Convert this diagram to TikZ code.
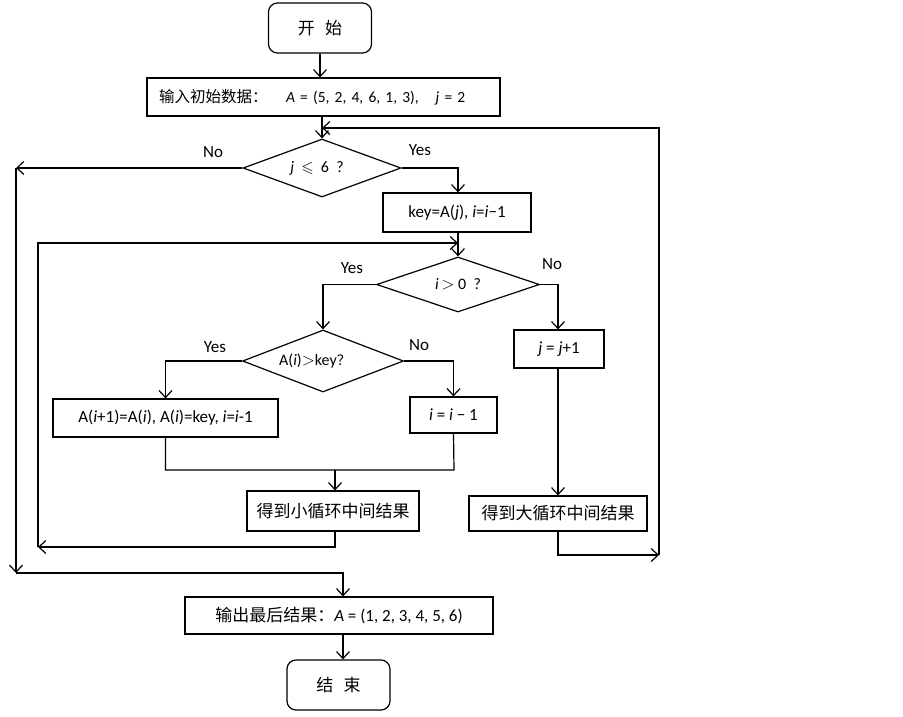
\documentclass[tikz,border=0pt]{standalone}
\usepackage{amssymb}
\usepackage{fontspec}
\setmainfont{Carlito}
\newfontfamily\cjk{Noto Sans CJK SC}
\usetikzlibrary{shapes.geometric,arrows.meta}
\begin{document}
\begin{tikzpicture}[x=1pt,y=-1pt,line width=1.2pt,
  txt/.style={font=\fontsize{17}{19}\selectfont},
  box/.style={draw,rectangle,inner sep=0pt,txt},
  term/.style={box,rounded corners=9pt},
  dec/.style={draw,diamond,inner sep=0pt},
  dtxt/.style={font=\fontsize{16}{18}\selectfont},
  arr/.style={-{Straight Barb[length=7pt,width=13pt,line width=1.2pt]}},
  lab/.style={txt}]
\useasboundingbox (0,0) rectangle (903,716);
% nodes
\node[term,minimum width=103,minimum height=50] (start) at (320,28) {\cjk 开\hspace{0.6em}始};
\node[box,minimum height=38,text width=341,inner xsep=6pt,align=left,font=\fontsize{15.5}{18}\selectfont] (in) at (323.5,97)
  {\hspace{6pt}{\cjk 输入初始数据：}\hspace{1.2em}\textit{A} = (5, 2, 4, 6, 1, 3),\hspace{1.1em}\textit{j} = 2};
\node[dec,minimum width=158,minimum height=58] (d1) at (322,168) {};
\node[dtxt] (t1) at ([xshift=-5pt]d1.center) {\textit{j}\ \ $\leqslant$\ \ 6\ \ ?};
\node[box,minimum width=148,minimum height=39] (key) at (457,212.5) {key=A(\textit{j}), \textit{i}=\textit{i}−1};
\node[dec,minimum width=163,minimum height=55] (d2) at (458,284.5) {};
\node[dtxt] (t2) at (d2) {\textit{i}\,$>$\ 0\ \ ?};
\node[dec,minimum width=161,minimum height=62] (d3) at (323,361) {};
\node[dtxt] (t3) at ([xshift=-8pt]d3.center) {A(\textit{i})$>$key{\cjk\fontsize{14}{16}\selectfont ？}};
\node[box,minimum width=225,minimum height=38] (ba) at (165.5,418) {A(\textit{i}+1)=A(\textit{i}), A(\textit{i})=key, \textit{i}=\textit{i}-1};
\node[box,minimum width=87,minimum height=36] (bi) at (453.5,415) {\textit{i} = \textit{i} − 1};
\node[box,minimum width=90,minimum height=38] (bj) at (559,349) {\textit{j} = \textit{j}+1};
\node[box,minimum width=172,minimum height=40] (small) at (333,511) {\cjk 得到小循环中间结果};
\node[box,minimum width=178,minimum height=35] (big) at (558,513.5) {\cjk 得到大循环中间结果};
\node[box,minimum width=308,minimum height=37] (out) at (339,615.5) {{\cjk 输出最后结果：}\textit{A} = (1, 2, 3, 4, 5, 6)};
\node[term,minimum width=103,minimum height=50] (end) at (338.5,685) {\cjk 结\hspace{0.6em}束};
% labels
\node[lab] (l1) at (213,152) {No};
\node[lab] (l2) at (420,150) {Yes};
\node[lab] (l3) at (352,268) {Yes};
\node[lab] (l4) at (552,264) {No};
\node[lab] (l5) at (215,347) {Yes};
\node[lab] (l6) at (419,345) {No};
% coordinates
\coordinate (tr) at (659,128);
\coordinate (br) at (659,555);
\coordinate (nl) at (16,168);
\coordinate (nb) at (16,573);
\coordinate (il) at (38,547);
\coordinate (it) at (38,243);
\coordinate (mc) at (335,470);
\coordinate (mr) at (454,470);
\coordinate (ox) at (343,573);
% connectors
\draw[arr] (start.south) -- (start.south |- in.north);
\draw[arr] (d1.north |- in.south) -- (d1.north);
\draw[arr] (br) -- (tr) -- (d1.north |- tr);
\draw[arr] (d1.west) -- (nl);
\draw[arr] (nl) -- (nb);
\draw[arr] (nb) -- (ox) -- (ox |- out.north);
\draw[arr] (d1.east) -| ([xshift=1pt]key.north);
\draw[arr] ([xshift=1pt]key.south) -- (d2.north);
\draw[arr] (il) -- (it) -- (d2.north |- it);
\draw[arr] (d2.west) -| (d3.north);
\draw[arr] (d2.east) -| ([xshift=-1pt]bj.north);
\draw[arr] (d3.west) -| (ba.north);
\draw[arr] (d3.east) -| (bi.north);
\draw (ba.south) |- (mr) -- (bi.south);
\draw[arr] (mc) -- (mc |- small.north);
\draw[arr] ([xshift=2pt]small.south) |- (il);
\draw[arr] ([xshift=-1pt]bj.south) -- (big.north);
\draw[arr] (big.south) |- (br);
\draw[arr] (out.south -| ox) -- (ox |- end.north);
\end{tikzpicture}
\end{document}
